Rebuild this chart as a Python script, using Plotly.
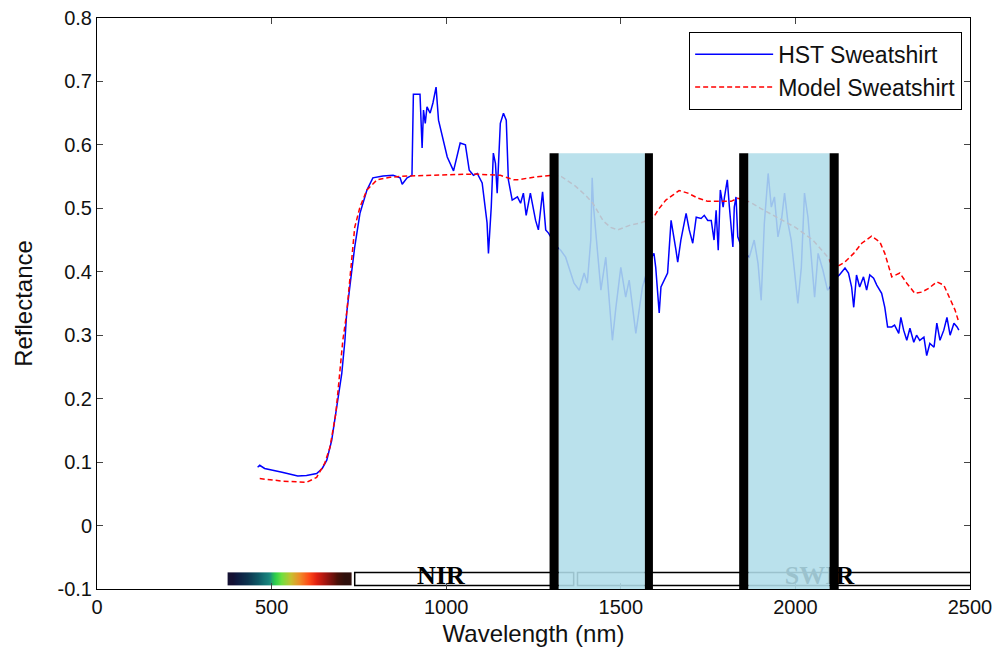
import plotly.graph_objects as go

hst_wl = [460, 466, 480, 500, 530, 560, 575, 600, 629, 645, 658, 672, 687, 701, 710,
          715, 727, 738, 753, 773, 790, 819, 848, 868, 874, 888, 902, 903, 906, 925,
          931, 935, 940, 945, 954, 962, 971, 978, 988, 1003, 1021, 1040, 1055, 1066,
          1078, 1089, 1103, 1117, 1121, 1129, 1135, 1141, 1146, 1155, 1164, 1172, 1178,
          1189, 1204, 1213, 1221, 1229, 1241, 1256, 1264, 1276, 1285, 1293, 1305, 1315,
          1328, 1342, 1366, 1381, 1395, 1404, 1414, 1418, 1422, 1433, 1443, 1457, 1466,
          1476, 1486, 1500, 1514, 1524, 1543, 1562, 1575, 1585, 1595, 1600, 1610, 1615,
          1634, 1644, 1658, 1663, 1672, 1687, 1696, 1706, 1716, 1730, 1739, 1749, 1759,
          1767, 1773, 1779, 1785, 1793, 1797, 1805, 1811, 1816, 1821, 1825, 1830, 1835,
          1845, 1855, 1868, 1882, 1893, 1902, 1911, 1922, 1931, 1940, 1950, 1960, 1969,
          1979, 1988, 1998, 2007, 2017, 2026, 2036, 2046, 2055, 2065, 2079, 2092, 2105,
          2115, 2126, 2142, 2152, 2161, 2167, 2175, 2184, 2195, 2204, 2213, 2224, 2233,
          2247, 2256, 2264, 2276, 2284, 2296, 2302, 2310, 2319, 2328, 2339, 2347, 2356,
          2368, 2376, 2385, 2397, 2405, 2414, 2425, 2434, 2443, 2454, 2463, 2468]
hst_refl = [0.092, 0.095, 0.090, 0.088, 0.084, 0.080, 0.078, 0.079, 0.082, 0.090, 0.103,
            0.134, 0.186, 0.240, 0.292, 0.335, 0.390, 0.439, 0.492, 0.529, 0.548, 0.551,
            0.552, 0.548, 0.538, 0.548, 0.552, 0.612, 0.680, 0.680, 0.595, 0.655, 0.634,
            0.660, 0.650, 0.666, 0.691, 0.639, 0.615, 0.581, 0.559, 0.603, 0.600, 0.560,
            0.552, 0.555, 0.540, 0.477, 0.429, 0.502, 0.587, 0.571, 0.524, 0.634, 0.650,
            0.639, 0.545, 0.513, 0.518, 0.508, 0.524, 0.489, 0.524, 0.481, 0.466, 0.526,
            0.466, 0.461, 0.450, 0.440, 0.434, 0.423, 0.382, 0.371, 0.398, 0.382, 0.450,
            0.548, 0.502, 0.439, 0.371, 0.423, 0.355, 0.292, 0.344, 0.407, 0.360, 0.387,
            0.303, 0.376, 0.400, 0.420, 0.429, 0.407, 0.335, 0.376, 0.398, 0.481, 0.434,
            0.415, 0.450, 0.492, 0.466, 0.445, 0.486, 0.484, 0.489, 0.481, 0.481, 0.450,
            0.497, 0.434, 0.529, 0.502, 0.518, 0.545, 0.502, 0.466, 0.439, 0.502, 0.518,
            0.455, 0.440, 0.430, 0.423, 0.450, 0.413, 0.355, 0.476, 0.555, 0.502, 0.518,
            0.455, 0.481, 0.524, 0.476, 0.450, 0.398, 0.350, 0.407, 0.524, 0.486, 0.423,
            0.360, 0.429, 0.402, 0.371, 0.380, 0.390, 0.395, 0.406, 0.398, 0.376, 0.344,
            0.395, 0.376, 0.392, 0.371, 0.395, 0.390, 0.379, 0.366, 0.344, 0.313, 0.313,
            0.316, 0.303, 0.328, 0.308, 0.292, 0.311, 0.289, 0.300, 0.292, 0.297, 0.268,
            0.287, 0.281, 0.319, 0.292, 0.308, 0.328, 0.300, 0.319, 0.313, 0.308]

model_wl = [466, 500, 532, 570, 600, 629, 652, 667, 684, 695, 704, 715, 727, 738, 753,
            773, 802, 839, 888, 983, 1078, 1155, 1180, 1193, 1204, 1250, 1299, 1330,
            1370, 1400, 1420, 1450, 1471, 1491, 1529, 1557, 1580, 1594, 1610, 1629, 1652,
            1667, 1692, 1721, 1749, 1782, 1816, 1835, 1870, 1900, 1950, 2000, 2050, 2090,
            2110, 2126, 2141, 2167, 2190, 2218, 2242, 2256, 2267, 2276, 2299, 2319, 2342,
            2362, 2382, 2405, 2425, 2443, 2457, 2466]
model_refl = [0.074, 0.072, 0.070, 0.069, 0.068, 0.076, 0.098, 0.123, 0.177, 0.240, 0.292,
              0.335, 0.410, 0.470, 0.502, 0.529, 0.545, 0.549, 0.551, 0.552, 0.554, 0.552,
              0.548, 0.545, 0.545, 0.549, 0.552, 0.550, 0.535, 0.520, 0.508, 0.480, 0.470,
              0.466, 0.474, 0.477, 0.482, 0.486, 0.500, 0.513, 0.522, 0.528, 0.524, 0.516,
              0.511, 0.511, 0.511, 0.516, 0.510, 0.500, 0.485, 0.470, 0.450, 0.425, 0.405,
              0.410, 0.415, 0.429, 0.445, 0.456, 0.447, 0.429, 0.407, 0.392, 0.398, 0.382,
              0.366, 0.368, 0.374, 0.384, 0.379, 0.358, 0.340, 0.324]

# water absorption bands (edges of black bars, nm) and their top
bands = [(1296, 1322, 1569, 1592), (1839, 1865, 2098, 2124)]
band_top = 0.587

# visible colour strip + region boxes along the bottom
vis_wl = [374, 400, 430, 460, 490, 510, 530, 555, 580, 605, 630, 660, 690, 730]
vis_colors = ["#1a0826", "#0f1a3f", "#0d3550", "#0e5866", "#1a8a80", "#2ccc4c",
              "#6fe040", "#c8c030", "#f08a28", "#ff4a18", "#e02010", "#901410",
              "#4a1008", "#141010"]
strip_y = (-0.0738, -0.0943)
region_boxes = [(738, 1365), (1376, 2510)]
region_labels = ["NIR", "SWIR"]
region_label_x = [985, 2069]

y_ticks = [0.8, 0.7, 0.6, 0.5, 0.4, 0.3, 0.2, 0.1, 0, -0.1]
y_tick_text = ["0.8", "0.7", "0.6", "0.5", "0.4", "0.3", "0.2", "0.1", "0", "-0.1"]
x_ticks = [0, 500, 1000, 1500, 2000, 2500]

FONT = "Liberation Sans, Arial, sans-serif"

fig = go.Figure()

# colour strip as a one-row heatmap
z_row = [[(a + b) / 2 for a, b in zip(vis_wl[:-1], vis_wl[1:])]]
cs = [[(w - vis_wl[0]) / (vis_wl[-1] - vis_wl[0]), c] for w, c in zip(vis_wl, vis_colors)]
fig.add_trace(go.Heatmap(
    x=vis_wl, y=list(strip_y), z=z_row, zsmooth="best",
    colorscale=cs, zmin=vis_wl[0], zmax=vis_wl[-1],
    showscale=False, hoverinfo="skip",
))

fig.add_trace(go.Scatter(
    x=hst_wl, y=hst_refl, mode="lines", name="HST Sweatshirt",
    line=dict(color="#0000ff", width=1.5),
))
fig.add_trace(go.Scatter(
    x=model_wl, y=model_refl, mode="lines", name="Model Sweatshirt",
    line=dict(color="#ff0000", width=1.5, dash="5px,3px"),
))

fig.add_trace(go.Scatter(
    x=region_label_x, y=[-0.0825] * 2, mode="text", text=region_labels,
    textfont=dict(family="Liberation Serif, Times New Roman, serif", size=26,
                  color="black", weight="bold"),
    showlegend=False, hoverinfo="skip",
))

shapes = []
for x0, x1 in region_boxes:
    shapes.append(dict(type="rect", xref="x", yref="y", x0=x0, x1=x1,
                       y0=strip_y[0], y1=strip_y[1], layer="below",
                       line=dict(color="black", width=1.5)))
for a, b, c, d in bands:
    shapes.append(dict(type="rect", xref="x", yref="y", x0=b, x1=c, y0=-0.1, y1=band_top,
                       fillcolor="#b0dde9", opacity=0.88, line_width=0, layer="above"))
    for x0, x1 in [(a, b), (c, d)]:
        shapes.append(dict(type="rect", xref="x", yref="y", x0=x0, x1=x1, y0=-0.1,
                           y1=band_top, fillcolor="black", line_width=0, layer="above"))

# page body adds an 8px offset, so the figure is drawn 8px smaller
fig.update_layout(
    width=992, height=647,
    paper_bgcolor="white", plot_bgcolor="white",
    margin=dict(l=89, r=30, t=10, b=66),
    font=dict(family=FONT, size=20, color="#111"),
    shapes=shapes,
    legend=dict(
        x=0.991, y=0.976, xanchor="right", yanchor="top",
        bgcolor="white", bordercolor="black", borderwidth=1,
        font=dict(size=23, family=FONT), itemwidth=78,
    ),
    showlegend=True,
)
fig.update_xaxes(
    range=[0, 2500], tickvals=x_ticks, ticks="inside", ticklen=6,
    showline=True, linecolor="black", linewidth=1, mirror="ticks",
    showgrid=False, zeroline=False, ticklabeloverflow="allow", automargin=False,
    title=dict(text="Wavelength (nm)", font=dict(size=24), standoff=8),
)
fig.update_yaxes(
    range=[-0.1, 0.8], tickvals=y_ticks, ticktext=y_tick_text, ticks="inside", ticklen=6,
    showline=True, linecolor="black", linewidth=1, mirror="ticks",
    showgrid=False, zeroline=False, ticklabeloverflow="allow", automargin=False,
    title=dict(text="Reflectance", font=dict(size=24), standoff=18),
)

fig.write_html("out.html")
